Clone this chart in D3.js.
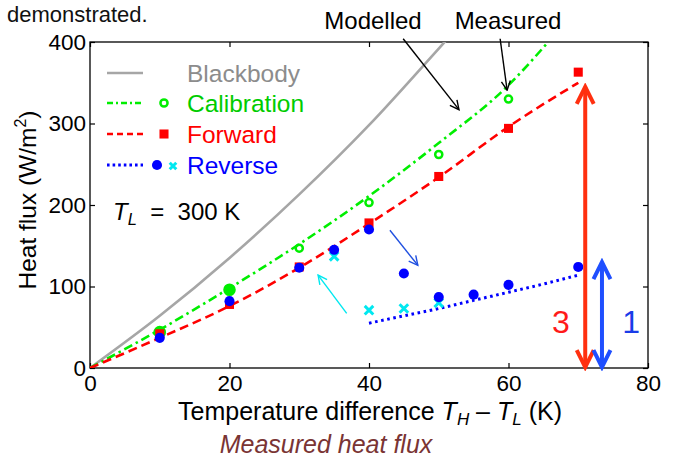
<!DOCTYPE html>
<html><head><meta charset="utf-8">
<script src="https://cdn.jsdelivr.net/npm/d3@7"></script>
<style>
body{margin:0;background:#fff;}
svg{display:block;font-family:"Liberation Sans",Arial,Helvetica,sans-serif;}
</style></head>
<body><svg id="c" width="674" height="459"></svg>
<script>
// ---- data ----
const xTicks = [0, 20, 40, 60, 80];
const yTicks = [0, 100, 200, 300, 400];

const bbX = [0, 10, 20, 30, 40, 50, 52];
const bbY = [0, 64, 135, 213, 298, 392, 411];

const calModelX = [0, 10, 20, 30, 40, 50, 60, 66];
const calModelY = [0, 47, 98, 152, 211, 276, 347, 403];

const fwdModelX = [0, 10, 20, 30, 40, 50, 60, 70];
const fwdModelY = [0, 37, 76, 123, 177, 234, 296, 350];

const revModelX = [40, 45, 50, 55, 60, 65, 70];
const revModelY = [55, 64, 73, 83, 93, 103, 114];

const calX = [10, 20, 30, 40, 50, 60];
const calY = [44, 96, 147, 203, 262, 330];
const calFilled = [true, true, false, false, false, false];

const fwdX = [10, 20, 30, 40, 50, 60, 70];
const fwdY = [42, 78, 124, 178, 235, 294, 363];

const revX = [10, 20, 30, 35, 40, 45, 50, 55, 60, 70];
const revY = [37, 82, 123, 145, 170, 116, 87, 90, 102, 124];

const cyanX = [35, 40, 45, 50];
const cyanY = [137, 71, 73, 80];

const legendNames = ["Blackbody", "Calibration", "Forward", "Reverse"];

// ---- layout ----
const svg = d3.select("#c");
const x = d3.scaleLinear([0, 80], [90, 648]);
const y = d3.scaleLinear([0, 400], [368, 42]);
const C = {gray:"#a6a6a6", grayText:"#8c8c8c", green:"#00ee00", greenText:"#00cc00",
  red:"#ff0000", blue:"#0000ff", cyan:"#00e8f0", bigRed:"#ff3010", bigBlue:"#1f4fff"};

// markers
const defs = svg.append("defs");
function marker(id, color, len, half, sw){
  defs.append("marker").attr("id", id).attr("markerUnits","userSpaceOnUse")
    .attr("viewBox", `${-len-sw} ${-half-sw} ${len+2*sw} ${2*half+2*sw}`)
    .attr("refX",0).attr("refY",0)
    .attr("markerWidth", len+2*sw).attr("markerHeight", 2*half+2*sw)
    .attr("orient","auto-start-reverse")
    .append("path").attr("d", `M${-len},${-half} L0,0 L${-len},${half}`)
    .attr("fill","none").attr("stroke", color).attr("stroke-width", sw)
    .attr("stroke-linejoin","miter");
}
marker("ahBlack", "#000", 9, 4.5, 1.4);
marker("ahBlue", "#2050e0", 9, 4.5, 1.4);
marker("ahCyan", C.cyan, 9, 4.5, 1.4);
marker("ahBigRed", C.bigRed, 17, 8.5, 4);
marker("ahBigBlue", C.bigBlue, 17, 8.5, 4);

defs.append("clipPath").attr("id","plotClip").append("rect")
  .attr("x", x(0)).attr("y", y(400)).attr("width", x(80)-x(0)).attr("height", y(0)-y(400));

// top text fragment
svg.append("text").attr("x", 7).attr("y", 22).attr("font-size", 22).attr("fill","#111").text("demonstrated.");

// frame + axes
const g = svg.append("g");
g.append("rect").attr("x", x(0)).attr("y", y(400)).attr("width", x(80)-x(0)).attr("height", y(0)-y(400))
  .attr("fill","none").attr("stroke","#000").attr("stroke-width",1.3);

const ax = g.append("g").attr("transform", `translate(0,${y(0)})`)
  .call(d3.axisBottom(x).tickValues(xTicks).tickSize(-5).tickSizeOuter(0).tickPadding(7));
const ay = g.append("g").attr("transform", `translate(${x(0)},0)`)
  .call(d3.axisLeft(y).tickValues(yTicks).tickSize(-5).tickSizeOuter(0).tickPadding(4));
const at = g.append("g").attr("transform", `translate(0,${y(400)})`)
  .call(d3.axisTop(x).tickValues(xTicks).tickSize(-5).tickSizeOuter(0).tickFormat(""));
const ar = g.append("g").attr("transform", `translate(${x(80)},0)`)
  .call(d3.axisRight(y).tickValues(yTicks).tickSize(-5).tickSizeOuter(0).tickFormat(""));
[ax, ay, at, ar].forEach(a => {
  a.select(".domain").remove();
  a.selectAll("line").attr("stroke","#000").attr("stroke-width",1.2);
  a.selectAll("text").attr("font-size",22.5).attr("fill","#000").attr("font-family","Liberation Sans, Arial, sans-serif");
});

// axis labels
const xl = svg.append("text").attr("x", 370).attr("y", 420).attr("text-anchor","middle").attr("font-size",25).attr("fill","#000");
xl.append("tspan").text("Temperature difference ");
xl.append("tspan").attr("font-style","italic").text("T");
xl.append("tspan").attr("font-style","italic").attr("font-size",17).attr("dy",5).text("H");
xl.append("tspan").attr("dy",-5).text(" – ");
xl.append("tspan").attr("font-style","italic").text("T");
xl.append("tspan").attr("font-style","italic").attr("font-size",17).attr("dy",5).text("L");
xl.append("tspan").attr("dy",-5).text(" (K)");

const yl = svg.append("text").attr("transform","translate(36,200) rotate(-90)").attr("text-anchor","middle")
  .attr("font-size",24.5).attr("fill","#000");
yl.append("tspan").text("Heat flux (W/m");
yl.append("tspan").attr("font-size",16).attr("dy",-10).text("2");
yl.append("tspan").attr("dy",10).text(")");

svg.append("text").attr("x", 326).attr("y", 453).attr("text-anchor","middle").attr("font-size",25)
  .attr("font-style","italic").attr("fill","#7a3434").text("Measured heat flux");

// lines
const plot = svg.append("g").attr("clip-path","url(#plotClip)");
const line = d3.line().x(d => x(d[0])).y(d => y(d[1])).curve(d3.curveMonotoneX);
const zip = (a, b) => a.map((v, i) => [v, b[i]]);

plot.append("path").attr("d", line(zip(bbX, bbY))).attr("fill","none").attr("stroke",C.gray).attr("stroke-width",2.6);
plot.append("path").attr("d", line(zip(calModelX, calModelY))).attr("fill","none").attr("stroke",C.green)
  .attr("stroke-width",2.6).attr("stroke-dasharray","9,4,2.5,4");
plot.append("path").attr("d", line(zip(fwdModelX, fwdModelY))).attr("fill","none").attr("stroke",C.red)
  .attr("stroke-width",2.6).attr("stroke-dasharray","9,5");
plot.append("path").attr("d", line(zip(revModelX, revModelY))).attr("fill","none").attr("stroke",C.blue)
  .attr("stroke-width",3).attr("stroke-dasharray","2.6,3.6");

// points
const pts = svg.append("g");
const sq = d3.symbol(d3.symbolSquare, 82);
const circ = d3.symbol(d3.symbolCircle, 80);
const ring = d3.symbol(d3.symbolCircle, 40);
const times = d3.symbol(d3.symbolTimes || d3.symbolX, 50);

pts.selectAll(".cal").data(zip(calX, calY)).join("path")
  .attr("transform", d => `translate(${x(d[0])},${y(d[1])})`)
  .attr("d", (d, i) => calFilled[i] ? circ() : ring())
  .attr("fill", (d, i) => calFilled[i] ? C.green : "none").attr("stroke", C.green).attr("stroke-width", 2.5);
pts.selectAll(".fwd").data(zip(fwdX, fwdY)).join("path")
  .attr("transform", d => `translate(${x(d[0])},${y(d[1])})`).attr("d", sq()).attr("fill", C.red);
pts.selectAll(".cy").data(zip(cyanX, cyanY)).join("path")
  .attr("transform", d => `translate(${x(d[0])},${y(d[1])})`).attr("d", times())
  .attr("fill","none").attr("stroke", C.cyan).attr("stroke-width", 3);
pts.selectAll(".rev").data(zip(revX, revY)).join("path")
  .attr("transform", d => `translate(${x(d[0])},${y(d[1])})`).attr("d", circ()).attr("fill", C.blue);

// annotations (data coords)
const ann = svg.append("g");
function arrow(x1, y1, x2, y2, color, w, mk, both){
  const l = ann.append("line").attr("x1", x(x1)).attr("y1", y(y1)).attr("x2", x(x2)).attr("y2", y(y2))
    .attr("stroke", color).attr("stroke-width", w).attr("marker-end", `url(#${mk})`);
  if (both) l.attr("marker-start", `url(#${mk})`);
}
arrow(44.9, 404, 52.9, 317, "#000", 1.4, "ahBlack");
arrow(58.8, 404, 59.8, 341, "#000", 1.4, "ahBlack");
arrow(43.0, 169, 47.0, 126, "#2050e0", 1.4, "ahBlue");
arrow(36.8, 67, 32.7, 114, C.cyan, 1.4, "ahCyan");
arrow(71.0, 1, 71.0, 345, C.bigRed, 4, "ahBigRed", true);
arrow(73.4, 1, 73.4, 130, C.bigBlue, 4, "ahBigBlue", true);

ann.append("text").attr("x", x(67.5)).attr("y", y(57)).attr("dy","0.36em").attr("text-anchor","middle")
  .attr("font-size",32).attr("fill","#ff1a1a").text("3");
ann.append("text").attr("x", x(77.6)).attr("y", y(57)).attr("dy","0.36em").attr("text-anchor","middle")
  .attr("font-size",32).attr("fill","#1a3ce8").text("1");

svg.append("text").attr("x", 373).attr("y", 29).attr("text-anchor","middle").attr("font-size",24).attr("fill","#000").text("Modelled");
svg.append("text").attr("x", 508).attr("y", 29).attr("text-anchor","middle").attr("font-size",24).attr("fill","#000").text("Measured");

const tl = svg.append("text").attr("x", 113).attr("y", 220).attr("font-size",24).attr("fill","#000").attr("xml:space","preserve");
tl.append("tspan").attr("font-style","italic").text("T");
tl.append("tspan").attr("font-style","italic").attr("font-size",16.5).attr("dy",5).text("L");
tl.append("tspan").attr("dy",-5).text("  =  300 K");

// legend
const lg = svg.append("g");
const rowY = [73, 103, 134, 165];
const textCol = [C.grayText, C.greenText, C.red, C.blue];
const lineCol = [C.gray, C.green, C.red, C.blue];
const dash = [null, "6,3,2,3", "6,4", "2.6,3"];
legendNames.forEach((n, i) => {
  lg.append("line").attr("x1",107).attr("x2",143).attr("y1",rowY[i]).attr("y2",rowY[i])
    .attr("stroke", lineCol[i]).attr("stroke-width", i === 3 ? 3 : 2.6).attr("stroke-dasharray", dash[i]);
  lg.append("text").attr("x",187).attr("y",rowY[i]).attr("dy","0.36em").attr("font-size",24.5)
    .attr("fill", textCol[i]).text(n);
});
lg.append("path").attr("transform",`translate(164,${rowY[1]})`).attr("d", ring()).attr("fill","none").attr("stroke",C.green).attr("stroke-width",2.5);
lg.append("path").attr("transform",`translate(164,${rowY[2]})`).attr("d", sq()).attr("fill",C.red);
lg.append("path").attr("transform",`translate(157,${rowY[3]})`).attr("d", circ()).attr("fill",C.blue);
lg.append("path").attr("transform",`translate(173,${rowY[3]+1})`).attr("d", d3.symbol(d3.symbolTimes || d3.symbolX, 30)()).attr("fill","none").attr("stroke",C.cyan).attr("stroke-width",3);
</script></body></html>
